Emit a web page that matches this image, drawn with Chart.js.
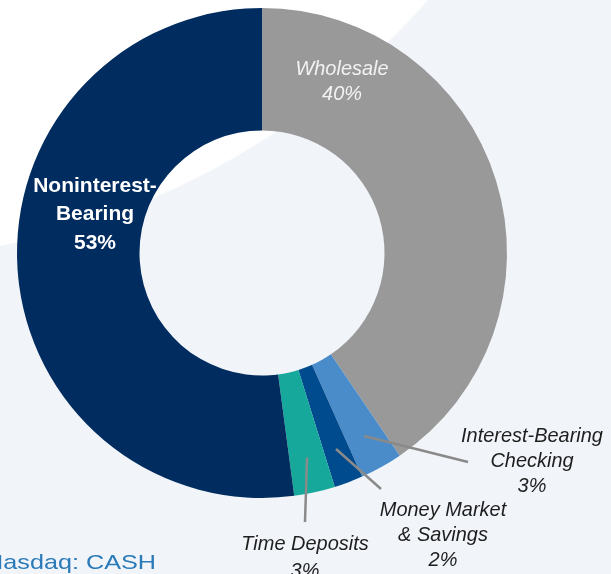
<!DOCTYPE html>
<html>
<head>
<meta charset="utf-8">
<script src="https://cdn.jsdelivr.net/npm/chart.js@4"></script>
<style>
    html, body { margin: 0; padding: 0; }
    body {
        width: 611px;
        height: 574px;
        overflow: hidden;
        /* white swoosh over the light page tint */
        background: radial-gradient(circle 780px at -154px -518px, #ffffff 99.8%, #F1F4F9 100%);
    }
    canvas { display: block; }
</style>
</head>
<body>
<canvas id="depositChart" width="611" height="574"></canvas>
<script>
// Deposit mix
const categories = ['Wholesale', 'Interest-Bearing Checking', 'Money Market & Savings', 'Time Deposits', 'Noninterest-Bearing'];
const shares = [40.5, 2.8, 1.9, 2.7, 52.1];
const shareLabels = ['40%', '3%', '2%', '3%', '53%'];
const labelLines = [
    ['Wholesale'],
    ['Interest-Bearing', 'Checking'],
    ['Money Market', '& Savings'],
    ['Time Deposits'],
    ['Noninterest-', 'Bearing']
];
const sliceColors = ['#999999', '#4A8BC9', '#004A8E', '#15A89B', '#002C5F'];

const ITALIC = 'italic 21px "Liberation Sans", Arial, sans-serif';
const BOLD = 'bold 21px "Liberation Sans", Arial, sans-serif';

// where each label sits (first baseline) and, for outside ones, where its leader ends
const labelPlacement = [
    { x: 342, y: 75, lh: 25, font: ITALIC, sx: 0.95, color: '#F2F2F2' },
    { x: 532, y: 442, lh: 25, font: ITALIC, sx: 0.95, color: '#1E1E1E', lineTo: [468, 462] },
    { x: 443, y: 516, lh: 25, font: ITALIC, sx: 0.95, color: '#1E1E1E', lineTo: [381, 489] },
    { x: 305, y: 549.5, lh: 27, font: ITALIC, sx: 0.95, color: '#1E1E1E', lineTo: [305, 522] },
    { x: 95, y: 192, lh: 28.3, font: BOLD, sx: 1, color: '#FFFFFF' }
];

// text squeezed or stretched sideways around its anchor
function drawText(ctx, text, x, y, sx) {
    ctx.save();
    ctx.translate(x, y);
    ctx.scale(sx, 1);
    ctx.fillText(text, 0, 0);
    ctx.restore();
}

const sliceLabels = {
    id: 'sliceLabels',
    afterDatasetsDraw(chart) {
        const ctx = chart.ctx;
        const arcs = chart.getDatasetMeta(0).data;
        ctx.save();

        // leader lines
        ctx.strokeStyle = '#8A8A8A';
        ctx.lineWidth = 2.5;
        arcs.forEach((arc, i) => {
            const p = labelPlacement[i];
            if (!p.lineTo) return;
            const mid = (arc.startAngle + arc.endAngle) / 2;
            const r = arc.outerRadius * 0.855;
            ctx.beginPath();
            ctx.moveTo(arc.x + Math.cos(mid) * r, arc.y + Math.sin(mid) * r);
            ctx.lineTo(p.lineTo[0], p.lineTo[1]);
            ctx.stroke();
        });

        // text
        ctx.textAlign = 'center';
        ctx.textBaseline = 'alphabetic';
        arcs.forEach((arc, i) => {
            const p = labelPlacement[i];
            const lines = [...labelLines[i], shareLabels[i]];
            ctx.font = p.font;
            ctx.fillStyle = p.color;
            lines.forEach((t, k) => drawText(ctx, t, p.x, p.y + k * p.lh, p.sx));
        });

        // ticker tag, bottom left (runs off the edge)
        ctx.font = '21px "Liberation Sans", Arial, sans-serif';
        ctx.fillStyle = '#2B7BB9';
        ctx.textAlign = 'right';
        drawText(ctx, 'Nasdaq: CASH', 156, 569, 1.2);
        ctx.restore();
    }
};

new Chart(document.getElementById('depositChart'), {
    type: 'doughnut',
    data: {
        labels: categories,
        datasets: [{
            data: shares,
            backgroundColor: sliceColors,
            borderWidth: 0
        }]
    },
    options: {
        responsive: false,
        animation: false,
        cutout: '50%',
        layout: { padding: { top: 8, bottom: 76, left: 17, right: 104 } },
        plugins: {
            legend: { display: false },
            tooltip: { enabled: false }
        }
    },
    plugins: [sliceLabels]
});
</script>
</body>
</html>
